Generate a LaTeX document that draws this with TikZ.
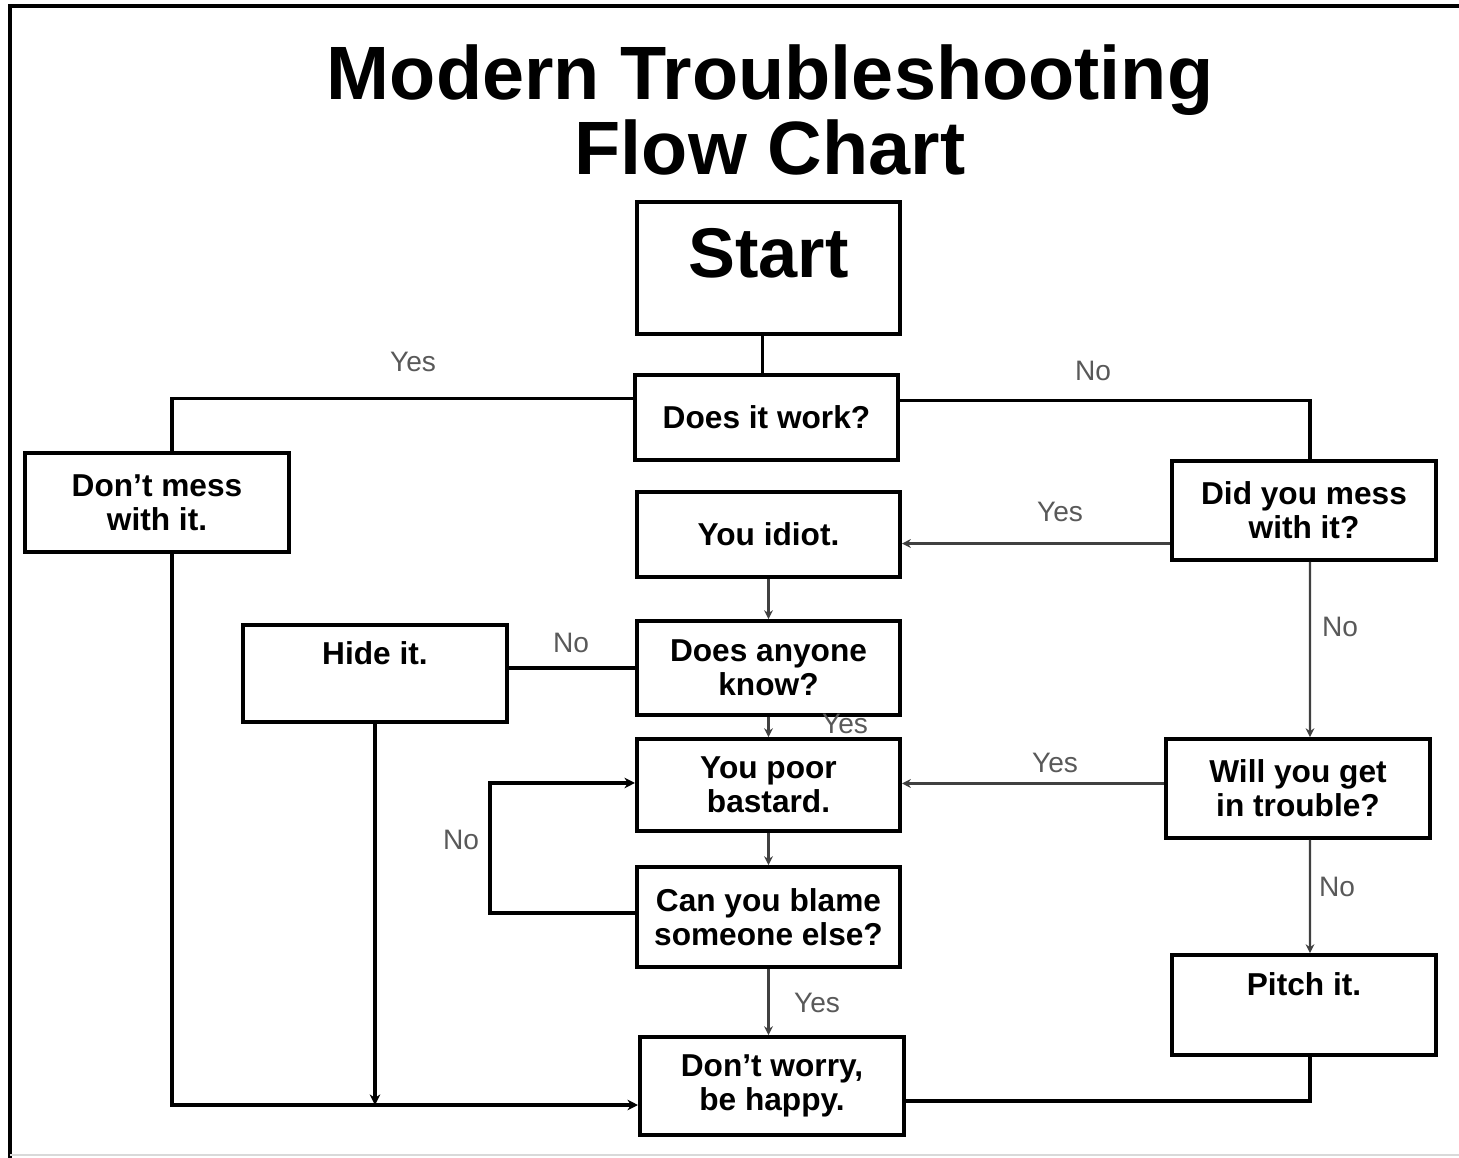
\documentclass[tikz,border=0pt]{standalone}
\usepackage{fontspec}
\setmainfont{Liberation Sans}
\usetikzlibrary{arrows.meta}
\tikzset{
	box/.style={draw, line width=1.1pt, rectangle, minimum width=2.63cm, font=\bfseries\fontsize{9}{9.7}\selectfont, align=center, inner sep=0pt},
	thickline/.style={line width=1.1pt},
	thinarrow/.style={line width=0.6pt, black!75, -{Stealth[length=2.5pt,width=2.5pt]}},
	thickarrow/.style={line width=1.1pt, -{Stealth[length=3pt,width=3pt]}},
	answer/.style={font=\fontsize{8}{10}\selectfont, text=black!65}
}
\begin{document}
\begin{tikzpicture}[x=0.01cm,y=-0.01cm]
			\useasboundingbox (0,0) rectangle (1459,1158);
			\draw[line width=1.2pt] (10,1158) -- (10,6) -- (1459,6);
			\draw[black!15, line width=0.6pt] (10,1155) -- (1459,1155);
			\node[font=\bfseries\fontsize{21.5}{19.5}\selectfont, align=center] (title) at (770,110) {Modern Troubleshooting\\Flow Chart};
			\node[box, minimum height=1.32cm, label={[font=\bfseries\fontsize{20}{24}\selectfont, yshift=0.15cm]center:Start}] (start) at (768.5,268) {};
			\node[box, minimum height=0.85cm] (work) at (766.5,417.5) {Does it work?};
			\node[box, minimum width=2.64cm, minimum height=0.99cm] (nomess) at (157,502.5) {Don’t mess\\with it.};
			\node[box, minimum width=2.64cm, minimum height=0.99cm] (mess) at (1304,510.5) {Did you mess\\with it?};
			\node[box, minimum height=0.85cm] (idiot) at (768.5,534.5) {You idiot.};
			\node[box, minimum width=2.64cm, minimum height=0.97cm, label={[font=\bfseries\fontsize{9}{9.7}\selectfont, yshift=0.2cm]center:Hide it.}] (hide) at (375,673.5) {};
			\node[box, minimum height=0.94cm] (know) at (768.5,668) {Does anyone\\know?};
			\node[box, minimum height=0.92cm] (poor) at (768.5,785) {You poor\\bastard.};
			\node[box, minimum width=2.64cm, minimum height=0.99cm] (trouble) at (1298,788.5) {Will you get\\in trouble?};
			\node[box, minimum height=1cm] (blame) at (768.5,917) {Can you blame\\someone else?};
			\node[box, minimum width=2.64cm, minimum height=1cm, label={[font=\bfseries\fontsize{9}{9.7}\selectfont, yshift=0.21cm]center:Pitch it.}] (pitch) at (1304,1005) {};
			\node[box, minimum width=2.64cm, minimum height=0.98cm] (happy) at (772,1086) {Don’t worry,\\be happy.};
			\coordinate (bot) at ([yshift=-0.19cm]happy.west);
			\draw[thickline] ([xshift=-0.06cm]start.south) -- ([xshift=-0.06cm]start.south |- work.north);
			\draw[thickline] ([yshift=0.19cm]work.west) -| ([xshift=0.15cm]nomess.north);
			\draw[thickline] ([yshift=0.17cm]work.east) -| ([xshift=0.06cm]mess.north);
			\draw[thinarrow] ([yshift=-0.33cm]mess.west) -- ([yshift=-0.33cm]mess.west -| idiot.east);
			\draw[thinarrow] (idiot.south) -- (know.north);
			\draw[thickline] (know.west) -- (know.west -| hide.east);
			\draw[thinarrow] (know.south) -- (poor.north);
			\draw[thinarrow] ([xshift=0.06cm]mess.south) -- ([xshift=0.12cm]trouble.north);
			\draw[thinarrow] ([yshift=0.05cm]trouble.west) -- ([yshift=0.05cm]trouble.west -| poor.east);
			\draw[thinarrow] (poor.south) -- (blame.north);
			\draw[thickarrow] ([yshift=0.04cm]blame.west) -| ([xshift=-1.45cm,yshift=0.02cm]poor.west) -- ([yshift=0.02cm]poor.west);
			\draw[thinarrow] (blame.south) -- (blame.south |- happy.north);
			\draw[thinarrow] ([xshift=0.12cm]trouble.south) -- ([xshift=0.06cm]pitch.north);
			\draw[thickline] ([xshift=0.06cm]pitch.south) |- ([yshift=-0.15cm]happy.east);
			\draw[thickarrow] ([xshift=0.15cm]nomess.south) |- (bot);
			\draw[thickarrow] (hide.south) -- (hide.south |- bot);
			\node[answer] (yes1) at (413,362) {Yes};
			\node[answer] (no1) at (1093,371) {No};
			\node[answer] (yes2) at (1060,512) {Yes};
			\node[answer] (no2) at (571,643) {No};
			\node[answer] (yes3) at (845,724) {Yes};
			\node[answer] (no3) at (1340,627) {No};
			\node[answer] (yes4) at (1055,763) {Yes};
			\node[answer] (no4) at (461,840) {No};
			\node[answer] (yes5) at (817,1003) {Yes};
			\node[answer] (no5) at (1337,887) {No};
		\end{tikzpicture}
\end{document}
